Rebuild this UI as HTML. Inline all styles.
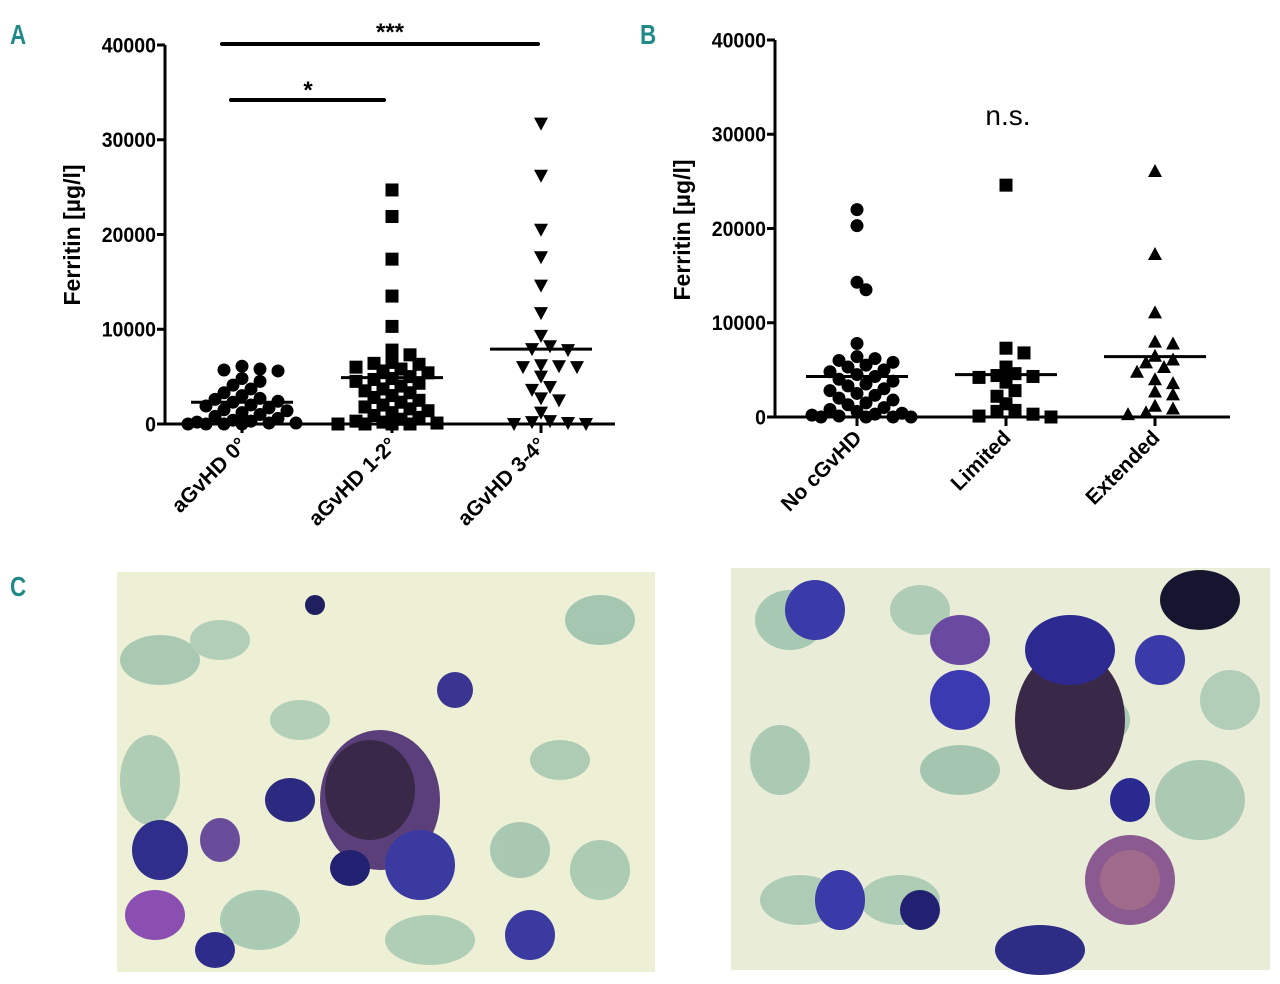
<!DOCTYPE html>
<html><head><meta charset="utf-8">
<style>
html,body{margin:0;padding:0;background:#fff;}
svg{display:block;font-family:"Liberation Sans",sans-serif;}
</style></head>
<body>
<svg id="fig" width="1280" height="984" viewBox="0 0 1280 984" xmlns="http://www.w3.org/2000/svg">
<rect width="1280" height="984" fill="#fff"/>
<g id="chartA"></g>
<g id="chartB"></g>
<text x="10" y="44" font-size="28" font-weight="bold" fill="#1f8a88" transform="scale(0.8,1)" style="transform-origin:10px 44px">A</text>
<text x="640" y="44" font-size="28" font-weight="bold" fill="#1f8a88" transform="scale(0.8,1)" style="transform-origin:640px 44px">B</text>
<text x="10" y="596" font-size="28" font-weight="bold" fill="#1f8a88" transform="scale(0.8,1)" style="transform-origin:10px 596px">C</text>

<g>
<rect x="117" y="572" width="538" height="400" fill="#eef0d6"/>
<g opacity="0.85">
<ellipse cx="160" cy="660" rx="40" ry="25" fill="#9fc3ad"/>
<ellipse cx="220" cy="640" rx="30" ry="20" fill="#a9c9b3"/>
<ellipse cx="600" cy="620" rx="35" ry="25" fill="#98bfaa"/>
<ellipse cx="150" cy="780" rx="30" ry="45" fill="#a5c7b0"/>
<ellipse cx="520" cy="850" rx="30" ry="28" fill="#9cc2ac"/>
<ellipse cx="600" cy="870" rx="30" ry="30" fill="#a0c5ae"/>
<ellipse cx="430" cy="940" rx="45" ry="25" fill="#a5c7b0"/>
<ellipse cx="260" cy="920" rx="40" ry="30" fill="#9fc3ad"/>
<ellipse cx="300" cy="720" rx="30" ry="20" fill="#a9c9b3"/>
<ellipse cx="560" cy="760" rx="30" ry="20" fill="#a3c6af"/>
</g>
<ellipse cx="380" cy="800" rx="60" ry="70" fill="#5a3f7a"/>
<ellipse cx="370" cy="790" rx="45" ry="50" fill="#3a2848"/>
<ellipse cx="290" cy="800" rx="25" ry="22" fill="#2c2a80"/>
<ellipse cx="160" cy="850" rx="28" ry="30" fill="#2f2e8a"/>
<ellipse cx="220" cy="840" rx="20" ry="22" fill="#6a4d9a"/>
<ellipse cx="420" cy="865" rx="35" ry="35" fill="#3a3aa0"/>
<ellipse cx="455" cy="690" rx="18" ry="18" fill="#3a3590"/>
<ellipse cx="155" cy="915" rx="30" ry="25" fill="#8a4fb0"/>
<ellipse cx="215" cy="950" rx="20" ry="18" fill="#2d2c8a"/>
<ellipse cx="530" cy="935" rx="25" ry="25" fill="#3a3aa0"/>
<ellipse cx="315" cy="605" rx="10" ry="10" fill="#202060"/>
<ellipse cx="350" cy="868" rx="20" ry="18" fill="#222070"/>
</g>

<g>
<rect x="731" y="568" width="539" height="402" fill="#e9edd8"/>
<g opacity="0.85">
<ellipse cx="790" cy="620" rx="35" ry="30" fill="#9cc2ac"/>
<ellipse cx="920" cy="610" rx="30" ry="25" fill="#a5c7b0"/>
<ellipse cx="780" cy="760" rx="30" ry="35" fill="#a0c5ae"/>
<ellipse cx="960" cy="770" rx="40" ry="25" fill="#98bfaa"/>
<ellipse cx="900" cy="900" rx="40" ry="25" fill="#a5c7b0"/>
<ellipse cx="1200" cy="800" rx="45" ry="40" fill="#9fc3ad"/>
<ellipse cx="1230" cy="700" rx="30" ry="30" fill="#a9c9b3"/>
<ellipse cx="800" cy="900" rx="40" ry="25" fill="#a3c6af"/>
<ellipse cx="1100" cy="720" rx="30" ry="25" fill="#a0c5ae"/>
</g>
<ellipse cx="1070" cy="720" rx="55" ry="70" fill="#3a2848"/>
<ellipse cx="1070" cy="650" rx="45" ry="35" fill="#2c2a90"/>
<ellipse cx="1130" cy="880" rx="45" ry="45" fill="#8a5a90"/>
<ellipse cx="1130" cy="880" rx="30" ry="30" fill="#a06a8a"/>
<ellipse cx="815" cy="610" rx="30" ry="30" fill="#3a3aa8"/>
<ellipse cx="960" cy="700" rx="30" ry="30" fill="#3c3ab0"/>
<ellipse cx="840" cy="900" rx="25" ry="30" fill="#3a3aa8"/>
<ellipse cx="920" cy="910" rx="20" ry="20" fill="#222070"/>
<ellipse cx="1200" cy="600" rx="40" ry="30" fill="#151530"/>
<ellipse cx="960" cy="640" rx="30" ry="25" fill="#6a4aa0"/>
<ellipse cx="1040" cy="950" rx="45" ry="25" fill="#2e2d85"/>
<ellipse cx="1160" cy="660" rx="25" ry="25" fill="#3a3aa8"/>
<ellipse cx="1130" cy="800" rx="20" ry="22" fill="#2a2990"/>
</g>
</svg>
<script>
const catsA = ["aGvHD 0°", "aGvHD 1-2°", "aGvHD 3-4°"];
const valsA0 = [5800,5600,6100,5700,4500,4100,3700,3300,2700,2600,2400,2300,2000,1900,1700,1500,1400,1200,1000,800,600,400,300,200,100,0,0,0,0,100,4800,3000];
const valsA1 = [24700,21900,17400,13500,10300,7300,7800,6500,6400,6300,6000,5800,5600,5400,5000,4800,4700,4500,4300,4000,3700,3500,3300,3000,2800,2500,2300,2000,1800,1600,1400,1200,900,700,500,300,200,100,0,0,0,0];
const valsA2 = [31700,26200,20500,17600,14600,11700,9300,8200,7900,7800,6200,6100,6000,6000,5000,3900,3600,2700,2500,1200,300,200,100,0,0];
const medA = [2300,4900,7900];
const catsB = ["No cGvHD", "Limited", "Extended"];
const valsB0 = [22000,20300,13500,14300,7800,6400,6200,6000,5800,5500,5300,5000,4800,4500,4300,4000,3800,3500,3300,3000,2800,2500,2300,2000,1800,1500,1300,1000,800,600,400,300,200,100,0,0,0,0];
const valsB1 = [24600,7300,6800,5300,4600,4400,4300,4200,3700,2800,2200,1400,700,600,300,100,0];
const valsB2 = [26100,17300,11100,8000,7800,6500,6100,5800,5300,4800,4000,3600,2700,2400,1200,900,500,300];
const medB = [4300,4500,6400];
const yTicks = [0,10000,20000,30000,40000];

const NS="http://www.w3.org/2000/svg";
function mk(parent, tag, attrs){const e=document.createElementNS(NS,tag);for(const k in attrs)e.setAttribute(k,attrs[k]);parent.appendChild(e);return e;}

function drawChart(gid, ax, cats, groups, meds, shapes){
  const g=document.getElementById(gid);
  const yS=v=>ax.y0-(v/40000)*(ax.y0-ax.yTop);
  const xS=i=>ax.cx[i];
  const yAxis=mk(g,'line',{x1:ax.x0,y1:ax.yTop,x2:ax.x0,y2:ax.y0+1.5,stroke:'#000','stroke-width':3});
  
  
  const xAxis=mk(g,'line',{x1:ax.x0-1.5,y1:ax.y0,x2:ax.x1,y2:ax.y0,stroke:'#000','stroke-width':3});
  
  
  yTicks.forEach(t=>{
    mk(g,'line',{x1:ax.x0-8,y1:yS(t),x2:ax.x0,y2:yS(t),stroke:'#000','stroke-width':3});
    const tl=mk(g,'text',{x:ax.x0-9,y:yS(t)+7.5,'text-anchor':'end','font-size':21,'font-weight':'bold',transform:`translate(${ax.x0-9},0) scale(0.93,1) translate(${-(ax.x0-9)},0)`});
    tl.textContent=t;
    
    
  });
  const yt=mk(g,'text',{x:0,y:0,'text-anchor':'middle','font-size':23,'font-weight':'bold',transform:`translate(${ax.x0-85},${ax.titleY}) rotate(-90)`});
  yt.textContent='Ferritin [µg/l]';
  
  
  cats.forEach((c,i)=>{
    mk(g,'line',{x1:xS(i),y1:ax.y0,x2:xS(i),y2:ax.y0+9,stroke:'#000','stroke-width':3});
    const cl=mk(g,'text',{x:0,y:0,'text-anchor':'end','font-size':21,'font-weight':'bold',transform:`translate(${xS(i)+6},${ax.y0+22}) rotate(-45)`});
    cl.textContent=c;
    
    
  });
  const maxOff=54, d=9;
  groups.forEach((vals,gi)=>{
    const placed=[];
    const sorted=vals.slice().sort((a,b)=>b-a);
    sorted.forEach(v=>{
      const py=yS(v);
      let best=0,bestScore=-1;
      for(let k=0;k<=2*Math.floor(maxOff/d);k++){
        const cand=(k%2?1:-1)*Math.ceil(k/2)*d;
        let md=1e9;
        placed.forEach(p=>{const dd=Math.hypot(p[0]-cand,p[1]-py);if(dd<md)md=dd;});
        if(md>=11){best=cand;bestScore=1e9;break;}
        if(md>bestScore){bestScore=md;best=cand;}
      }
      placed.push([best,py]);
      const px=xS(gi)+best;
      let m;
      if(shapes[gi]==='c') m=mk(g,'circle',{cx:px,cy:py,r:6.5,fill:'#000'});
      else if(shapes[gi]==='s') m=mk(g,'rect',{x:px-6.5,y:py-6.5,width:13,height:13,fill:'#000'});
      else if(shapes[gi]==='v') m=mk(g,'polygon',{points:`${px-7},${py-6} ${px+7},${py-6} ${px},${py+7}`,fill:'#000'});
      else m=mk(g,'polygon',{points:`${px-7},${py+6} ${px+7},${py+6} ${px},${py-7}`,fill:'#000'});
      
      
    });
    const ml=mk(g,'line',{x1:xS(gi)-51,y1:yS(meds[gi]),x2:xS(gi)+51,y2:yS(meds[gi]),stroke:'#000','stroke-width':3});
    
    
  });
  return {g,yS};
}

const A=drawChart('chartA',{x0:165,x1:615,y0:424,yTop:45,cx:[242,392,541],titleY:235},catsA,[valsA0,valsA1,valsA2],medA,['c','s','v']);
const B=drawChart('chartB',{x0:775,x1:1230,y0:417,yTop:40,cx:[857,1006,1155],titleY:230},catsB,[valsB0,valsB1,valsB2],medB,['c','s','t']);

const b1=mk(A.g,'line',{x1:222,y1:44,x2:538,y2:44,stroke:'#000','stroke-width':4,'stroke-linecap':'round'});


const t1=mk(A.g,'text',{x:390,y:40,'text-anchor':'middle','font-size':24,'font-weight':'bold'});t1.textContent='***';


const b2=mk(A.g,'line',{x1:231,y1:100,x2:384,y2:100,stroke:'#000','stroke-width':4,'stroke-linecap':'round'});


const t2=mk(A.g,'text',{x:308,y:98,'text-anchor':'middle','font-size':24,'font-weight':'bold'});t2.textContent='*';


const t3=mk(B.g,'text',{x:1008,y:125,'text-anchor':'middle','font-size':28});t3.textContent='n.s.';


</script>
</body></html>
